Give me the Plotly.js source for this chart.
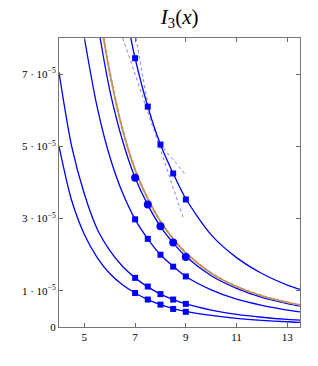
<!DOCTYPE html>
<html><head><meta charset="utf-8">
<script src="https://cdn.plot.ly/plotly-3.0.1.min.js"></script>
<style>html,body{margin:0;padding:0;background:#fff}</style>
</head><body><div id="chart" style="width:318px;height:366px"></div>
<script>
// values in units of 1e-5
const c1x = [4, 4.5, 5, 5.5, 6, 6.5, 7, 7.5, 8, 8.5, 9, 10, 11, 12, 13, 13.5];
const c1y = [5.0, 3.5, 2.56, 1.93, 1.48, 1.17, 0.94, 0.76, 0.62, 0.51, 0.43, 0.32, 0.24, 0.185, 0.145, 0.13];
const c2x = [4, 4.5, 5, 5.5, 6, 6.5, 7, 7.5, 8, 8.5, 9, 10, 11, 12, 13, 13.5];
const c2y = [7.05, 5.0, 3.68, 2.72, 2.12, 1.68, 1.36, 1.11, 0.91, 0.76, 0.64, 0.47, 0.35, 0.27, 0.21, 0.19];
const c3x = [5, 5.5, 6, 6.5, 7, 7.5, 8, 8.5, 9, 10, 11, 12, 13, 13.5];
const c3y = [8.0, 6.1, 4.72, 3.72, 2.98, 2.44, 2.0, 1.68, 1.4, 1.03, 0.77, 0.6, 0.47, 0.42];
const c4x = [5.62, 6, 6.5, 7, 7.5, 8, 8.5, 9, 10, 11, 12, 13, 13.5];
const c4y = [8.0, 6.56, 5.17, 4.13, 3.38, 2.78, 2.33, 1.95, 1.42, 1.07, 0.82, 0.65, 0.58];
const orx = [5.76, 6, 6.5, 7, 7.5, 8, 8.5, 9, 10, 11, 12, 13, 13.5];
const ory = [8.0, 7.05, 5.48, 4.35, 3.55, 2.92, 2.44, 2.05, 1.49, 1.12, 0.86, 0.68, 0.61];
const c5x = [6.83, 7, 7.5, 8, 8.5, 9, 10, 11, 12, 13, 13.5];
const c5y = [8.0, 7.44, 6.1, 5.05, 4.25, 3.55, 2.55, 1.92, 1.48, 1.16, 1.04];
const dAx = [6.51, 7.0, 7.5, 8.0, 8.5, 8.9];
const dAy = [8.0, 7.0, 5.95, 4.92, 3.85, 3.02];
const dBx = [7.04, 7.3, 7.6, 7.9, 8.2, 8.6, 8.98];
const dBy = [8.0, 6.95, 5.9, 5.25, 4.88, 4.55, 4.22];
const mkx = [7, 7.5, 8, 8.5, 9];
const m1 = [0.94, 0.76, 0.62, 0.5, 0.42];
const m2 = [1.36, 1.12, 0.91, 0.76, 0.64];
const m3 = [2.98, 2.44, 2.0, 1.67, 1.4];
const m4 = [4.13, 3.39, 2.79, 2.34, 1.94];
const m5 = [7.44, 6.1, 5.05, 4.25, 3.53];
const yTicks = [0, 1, 3, 5, 7];
const yTickText = ['0', '1 · 10<sup>−5</sup>', '3 · 10<sup>−5</sup>', '5 · 10<sup>−5</sup>', '7 · 10<sup>−5</sup>'];
const xTicks = [5, 7, 9, 11, 13];

const blue = '#0000ff';
function line(x, y, extra) {
  return Object.assign({x: x, y: y, mode: 'lines', type: 'scatter', hoverinfo: 'skip',
    line: {color: blue, width: 1.3, shape: 'spline', smoothing: 0.8}}, extra || {});
}
function marks(y, sym, size) {
  return {x: mkx, y: y, mode: 'markers', type: 'scatter',
    marker: {color: blue, symbol: sym, size: size, line: {width: 0}}};
}
const traces = [
  line(dAx, dAy, {line: {color: '#5555ff', width: 0.8, dash: '3px,3px', shape: 'spline'}}),
  line(dBx, dBy, {line: {color: '#5555ff', width: 0.8, dash: '3px,3px', shape: 'spline'}}),
  line(c1x, c1y), line(c2x, c2y), line(c3x, c3y), line(c4x, c4y), line(c5x, c5y),
  line(orx, ory, {line: {color: '#9a9a9a', width: 1.8, shape: 'spline'}}),
  line(orx, ory, {line: {color: '#ee8a22', width: 1.9, dash: '3px,3px', shape: 'spline'}}),
  marks(m1, 'square', 6), marks(m2, 'square', 6), marks(m3, 'square', 6),
  marks(m4, 'circle', 8), marks(m5, 'square', 6)
];
const layout = {
  width: 318, height: 366,
  margin: {l: 59, r: 18, t: 38, b: 39},
  showlegend: false,
  paper_bgcolor: '#fff', plot_bgcolor: '#fff',
  font: {family: 'Liberation Serif, DejaVu Serif, serif', color: '#000', size: 11},
  title: {text: '<i>I</i><sub>3</sub>(<i>x</i>)', x: 0.565, xanchor: 'center', y: 0.955, yanchor: 'middle',
    font: {size: 21, family: 'Liberation Serif, serif'}},
  xaxis: {range: [4, 13.5], tickvals: xTicks, ticktext: xTicks.map(String), ticks: 'inside', ticklen: 4,
    tickcolor: '#666', showgrid: false, zeroline: false, showline: true, linecolor: '#777', linewidth: 1,
    mirror: 'ticks', tickfont: {size: 11}},
  yaxis: {range: [0, 8], tickvals: yTicks, ticktext: yTickText, ticks: 'inside', ticklen: 4,
    tickcolor: '#666', showgrid: false, zeroline: false, showline: true, linecolor: '#777', linewidth: 1,
    mirror: 'ticks', tickfont: {size: 11}}
};
Plotly.newPlot('chart', traces, layout, {staticPlot: true, displayModeBar: false});
</script></body></html>
